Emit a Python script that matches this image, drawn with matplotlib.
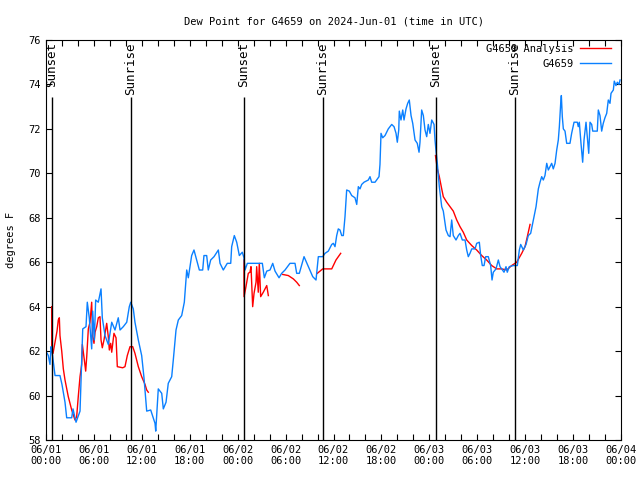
import matplotlib
matplotlib.use("Agg")
import matplotlib.pyplot as plt
from matplotlib.ticker import MultipleLocator
import numpy as np

# ---- data (hours since 2024-06-01 00:00 UTC) ----
obs_hours = [0.00, 0.29, 0.50, 0.63, 0.75, 1.13, 1.75, 2.00, 2.38, 2.59, 3.22, 3.38, 3.76, 4.26,
             4.60, 5.01, 5.17, 5.42, 5.72, 5.85, 6.05, 6.22, 6.55, 6.89, 7.05, 7.39, 7.80, 8.23,
             8.64, 9.05, 9.27, 9.68, 10.11, 10.43, 10.61, 10.93, 11.14, 11.56, 11.98, 12.27,
             12.61, 13.11, 13.65, 13.74, 14.06, 14.49, 14.69, 15.03, 15.31, 15.74, 15.94, 16.28,
             16.57, 16.99, 17.32, 17.62, 17.82, 18.24, 18.53, 18.87, 19.20, 19.62, 19.78, 20.12,
             20.32, 20.62, 21.04, 21.58, 21.79, 22.20, 22.70, 23.13, 23.25, 23.58, 23.88, 24.21,
             24.58, 24.79, 24.92, 25.21, 27.09, 27.34, 27.64, 28.05, 28.39, 28.68, 29.18, 29.51,
             29.93, 30.55, 31.18, 31.39, 31.72, 32.31, 32.85, 33.40, 33.81, 34.10, 34.65, 34.94,
             35.35, 35.78, 35.98, 36.19, 36.40, 36.60, 36.81, 37.03, 37.23, 37.44, 37.65, 37.98,
             38.28, 38.69, 38.91, 39.11, 39.32, 39.53, 39.82, 40.36, 40.57, 40.78, 41.20, 41.70,
             41.82, 41.95, 42.16, 42.45, 42.86, 43.29, 43.58, 43.83, 43.99, 44.17, 44.24, 44.45,
             44.67, 44.83, 45.08, 45.29, 45.49, 45.71, 45.92, 46.21, 46.49, 46.71, 46.83, 47.04,
             47.25, 47.46, 47.67, 47.87, 48.08, 48.30, 48.59, 48.71, 48.84, 49.00, 49.25, 49.55,
             49.75, 49.87, 50.09, 50.38, 50.59, 50.80, 51.00, 51.34, 51.63, 51.84, 52.13, 52.47,
             52.68, 52.88, 53.09, 53.31, 53.72, 53.93, 54.26, 54.43, 54.63, 54.85, 55.06, 55.38,
             55.68, 55.85, 56.01, 56.35, 56.64, 56.85, 57.06, 57.35, 57.60, 57.76, 58.01, 58.51,
             59.02, 59.27, 59.44, 59.77, 60.11, 60.39, 60.69, 61.02, 61.36, 61.65, 61.86, 62.07,
             62.27, 62.48, 62.70, 62.90, 63.11, 63.32, 63.52, 63.74, 63.95, 64.15, 64.28, 64.45,
             64.53, 64.65, 64.78, 64.99, 65.20, 65.61, 65.82, 66.12, 66.53, 66.65, 66.78, 66.99,
             67.20, 67.37, 67.62, 67.78, 67.96, 68.12, 68.33, 68.46, 69.03, 69.16, 69.37, 69.58,
             69.78, 69.99, 70.21, 70.41, 70.62, 70.75, 71.04, 71.16, 71.37, 71.54, 71.75, 71.88]
obs_dewpt = [62.0, 61.8, 61.4, 62.2, 62.0, 60.9, 60.9, 60.5, 59.7, 59.0, 59.0, 59.4, 58.8, 59.3,
             63.0, 63.1, 64.2, 63.5, 62.1, 63.8, 62.5, 64.3, 64.2, 64.8, 63.5, 62.7, 62.3, 63.3,
             62.95, 63.5, 62.95, 63.1, 63.3, 64.0, 64.2, 63.9, 63.3, 62.5, 61.8, 60.8,
             59.3, 59.35, 58.75, 58.4, 60.3, 60.1, 59.4, 59.7, 60.55, 60.85, 61.6, 62.95,
             63.4, 63.6, 64.2, 65.65, 65.3, 66.3, 66.55, 66.1, 65.65, 65.65, 66.3, 66.3,
             65.65, 66.1, 66.25, 66.55, 65.95, 65.65, 65.95, 65.95, 66.7, 67.2, 66.9, 66.3,
             66.45, 66.2, 65.65, 65.95, 65.95, 65.3, 65.6, 65.65, 65.95, 65.6, 65.3, 65.5,
             65.65, 65.95, 65.95, 65.5, 65.5, 66.25, 65.8, 65.35, 65.2, 66.25, 66.25, 66.4,
             66.5, 66.8, 66.85, 66.7, 67.2, 67.5, 67.45, 67.2, 67.2, 68.05, 69.25, 69.2,
             69.0, 68.9, 68.6, 69.4, 69.3, 69.5, 69.6, 69.7, 69.85, 69.6, 69.6, 69.85,
             70.4, 71.8, 71.6, 71.7, 72.0, 72.2, 72.1, 71.8, 71.4, 71.95, 72.8, 72.4,
             72.85, 72.4, 72.9, 73.15, 73.3, 72.6, 72.25, 71.5, 71.35, 70.95, 71.4, 72.85,
             72.6, 71.95, 71.65, 72.2, 71.8, 72.4, 72.2, 71.5, 71.0, 70.45, 69.4, 68.5,
             68.3, 68.0, 67.45, 67.2, 67.15, 67.9, 67.2, 67.0, 67.2, 67.3, 67.0, 67.0,
             66.55, 66.25, 66.4, 66.6, 66.6, 66.85, 66.9, 66.3, 65.85, 65.85, 66.25, 66.25,
             65.85, 65.2, 65.55, 65.7, 66.1, 65.8, 65.7, 65.55, 65.8, 65.55, 65.8, 65.85,
             65.85, 66.55, 66.8, 66.55, 66.8, 67.2, 67.3, 67.9, 68.5, 69.3, 69.6, 69.85,
             69.7, 69.9, 70.45, 70.15, 70.3, 70.45, 70.2, 70.45, 71.05, 71.5, 72.1, 73.15,
             73.5, 72.55, 72.0, 71.9, 71.35, 71.35, 71.8, 72.3, 72.3, 72.1, 72.3, 71.35,
             70.5, 71.5, 72.3, 71.65, 70.9, 72.3, 72.2, 71.9, 71.9, 72.85, 72.6, 71.9,
             72.25, 72.5, 72.7, 73.3, 73.15, 73.6, 73.75, 74.15, 73.95, 74.1, 74.0, 74.2]

ana_hours = [0.71, 0.72, 0.88, 1.13, 1.38, 1.54, 1.67, 1.75, 1.97, 2.17, 2.38, 2.79, 3.22, 3.63,
             3.84, 4.04, 4.26, 4.47, 4.55, 4.80, 4.97, 5.10, 5.30, 5.51, 5.72, 5.85, 6.01, 6.14,
             6.35, 6.55, 6.76, 6.89, 7.05, 7.26, 7.60, 7.80, 7.93, 8.10, 8.23, 8.51, 8.77, 8.93,
             9.60, 9.89, 10.18, 10.52, 10.86, 11.14, 11.56, 11.98, 12.40, 12.61, 12.81, np.nan,
             24.79, 24.80, 25.04, 25.33, 25.54, 25.67, 25.88, 26.05, 26.30, 26.38, 26.58, 26.71,
             26.88, 27.21, 27.64, 27.84, np.nan,
             29.64, 30.34, 30.97, 31.39, 31.72, np.nan,
             33.97, 34.31, 34.65, 35.78, 36.31, 36.90, np.nan,
             48.77, 49.00, 49.25, 49.55, 49.75, 50.18, 50.59, 51.00, 51.43, 51.84, 52.25, 52.68,
             53.31, 53.93, 54.56, 55.18, 55.81, 56.44, 57.06, 57.69, 58.31, 58.94, 59.57, 59.98,
             60.27, 60.61]
ana_dewpt = [64.0, 62.0, 61.9, 62.4, 62.9, 63.4, 63.5, 62.7, 62.0, 61.2, 60.7, 59.95, 59.35, 58.9,
             59.05, 59.95, 60.85, 61.4, 62.3, 61.6, 61.1, 61.75, 63.0, 63.3, 64.2, 62.65, 62.35, 62.85,
             63.1, 63.5, 63.55, 62.5, 62.15, 62.5, 63.25, 62.65, 62.05, 62.35, 61.95, 62.8, 62.6, 61.3,
             61.25, 61.3, 61.8, 62.2, 62.2, 61.9, 61.3, 60.85, 60.5, 60.25, 60.15, np.nan,
             66.1, 64.45, 64.9, 65.5, 65.55, 65.8, 64.0, 64.6, 65.1, 65.8, 64.65, 65.95,
             64.45, 64.65, 64.95, 64.5, np.nan,
             65.45, 65.4, 65.25, 65.1, 64.95, np.nan,
             65.5, 65.6, 65.7, 65.7, 66.1, 66.4, np.nan,
             70.8, 70.2, 69.85, 69.3, 68.95, 68.7, 68.5, 68.3, 67.9, 67.6, 67.35, 67.0,
             66.75, 66.55, 66.3, 66.1, 65.85, 65.7, 65.7, 65.65, 65.85, 66.0, 66.4, 66.7,
             67.15, 67.7]

sun_hours = [0.75, 10.64, 24.79, 34.69, 48.84, 58.73]
sun_labels = ["Sunset", "Sunrise", "Sunset", "Sunrise", "Sunset", "Sunrise"]

tick_hours = list(range(0, 73, 6))
tick_labels = ["06/01\n00:00", "06/01\n06:00", "06/01\n12:00", "06/01\n18:00",
               "06/02\n00:00", "06/02\n06:00", "06/02\n12:00", "06/02\n18:00",
               "06/03\n00:00", "06/03\n06:00", "06/03\n12:00", "06/03\n18:00",
               "06/04\n00:00"]

plt.rcParams['font.family'] = ['DejaVu Sans Mono']
FS = 7.5

fig = plt.figure(figsize=(6.4, 4.8), dpi=100)
ax = fig.add_axes([46/640, 40/480, 575/640, 400/480])

ax.plot(ana_hours, ana_dewpt, color='#ff0000', lw=1.0, label='G4659 Analysis')
ax.plot(obs_hours, obs_dewpt, color='#0a80ff', lw=1.0, label='G4659')

ax.vlines(sun_hours, 58, 73.43, color='black', lw=1.0)
for h, lab in zip(sun_hours, sun_labels):
    ax.text(h, 75.9, lab, rotation=90, ha='center', va='top', fontsize=9)

ax.set_xlim(0, 72)
ax.set_ylim(58, 76)
ax.set_xticks(tick_hours)
ax.set_xticklabels(tick_labels, fontsize=FS)
ax.xaxis.set_minor_locator(MultipleLocator(2))
ax.set_yticks(range(58, 77, 2))
ax.tick_params(axis='y', labelsize=FS)
ax.tick_params(which='both', direction='in', top=True, right=True, length=4, width=0.8)
ax.set_ylabel('degrees F', fontsize=FS, labelpad=9)
ax.set_title('Dew Point for G4659 on 2024-Jun-01 (time in UTC)', fontsize=FS, pad=11)

for s in ax.spines.values():
    s.set_linewidth(0.8)

ax.legend(loc='upper right', bbox_to_anchor=(611/640, 1 - 44/480), bbox_transform=fig.transFigure,
          frameon=False, markerfirst=False, fontsize=FS, handlelength=3.0,
          handletextpad=0.6, labelspacing=0.45, borderaxespad=0, borderpad=0)

fig.savefig('out.png', dpi=100)
